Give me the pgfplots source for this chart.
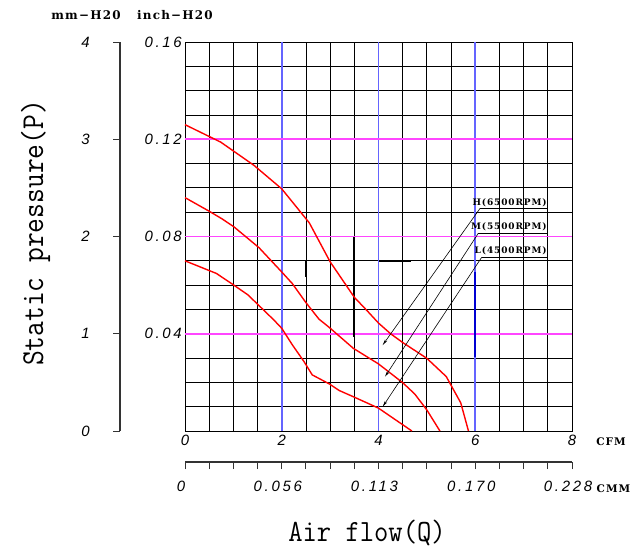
\documentclass[border=0pt]{standalone}
\usepackage{fontspec}
\usepackage{pgfplots}
\pgfplotsset{compat=1.18}
\usetikzlibrary{arrows.meta}
\newfontfamily\tickfont[LetterSpace=18]{Liberation Sans}
\newfontfamily\lblfont[LetterSpace=10]{DejaVu Serif}
\definecolor{gblue}{RGB}{100,100,255}
\definecolor{gmag}{RGB}{255,70,255}
\definecolor{dblue}{RGB}{0,0,210}
\begin{document}
\begin{tikzpicture}[x=1bp,y=1bp]
\path[use as bounding box] (0,0) rectangle (641,-549);
% main axis
\begin{axis}[
  at={(185bp,-431bp)}, anchor=south west,
  scale only axis, width=387bp, height=389bp,
  xmin=0,xmax=8,ymin=0,ymax=4,
  xtick={0,2,4,6,8}, xticklabels={0,2,4,6,8},
  minor xtick={0.5,1,1.5,2.5,3,3.5,4.5,5,5.5,6.5,7,7.5},
  ytick={1,2,3,4}, yticklabels={0.04,0.08,0.12,0.16},
  minor ytick={0.25,0.5,0.75,1.25,1.5,1.75,2.25,2.5,2.75,3.25,3.5,3.75},
  xmajorgrids=false, ymajorgrids=false,
  xminorgrids=true, yminorgrids=true,
  minor grid style={black,line width=0.8bp},
  major tick length=0pt, minor tick length=0pt,
  axis line style={black,line width=1bp},
  ticklabel style={font=\tickfont\itshape\fontsize{15}{15}\selectfont, inner sep=0pt},
  xticklabel style={anchor=north, yshift=-4bp},
  yticklabel style={anchor=east, xshift=-3bp},
  clip=false,
]
% coloured reference lines
\addplot[gblue,line width=1.6bp] coordinates {(2,0) (2,4)};
\addplot[gblue,line width=1.6bp] coordinates {(4,0) (4,4)};
\addplot[gblue,line width=1.6bp] coordinates {(6,0) (6,4)};
\addplot[gmag,line width=1.8bp] coordinates {(0,1) (8,1)};
\addplot[gmag,line width=1.8bp] coordinates {(0,2) (8,2)};
\addplot[gmag,line width=1.8bp] coordinates {(0,3) (8,3)};
% stray dark segments of the original drawing
\addplot[black,line width=2bp] coordinates {(3.5,2.0) (3.5,0.97)};
\addplot[black,line width=2bp] coordinates {(2.5,1.75) (2.5,1.58)};
\addplot[black,line width=2bp] coordinates {(4.0,1.75) (4.67,1.75)};
\addplot[black,line width=1.6bp] coordinates {(4.5,2.0) (4.5,0)};
\addplot[dblue,line width=2.2bp] coordinates {(6,1.64) (6,0.76)};
% curves
\addplot[red,line width=1.4bp] coordinates {
(0,3.15) (0.74,2.97) (1.43,2.73) (2.0,2.49) (2.57,2.14) (3.0,1.74) (3.5,1.375)
(3.74,1.25) (4.0,1.11) (4.25,1.0) (4.5,0.91) (5.0,0.747) (5.4,0.56) (5.7,0.29) (5.86,0)};
\addplot[red,line width=1.4bp] coordinates {
(0,2.40) (0.5,2.26) (0.77,2.18) (1.01,2.10) (1.53,1.885) (2.0,1.635) (2.22,1.515)
(2.5,1.32) (2.77,1.15) (2.98,1.066) (3.48,0.85) (4.0,0.69) (4.5,0.497) (4.75,0.38)
(5.0,0.216) (5.27,0)};
\addplot[red,line width=1.4bp] coordinates {
(0,1.75) (0.65,1.62) (0.98,1.51) (1.3,1.40) (1.55,1.28) (1.84,1.14) (2.0,1.056)
(2.22,0.885) (2.46,0.714) (2.63,0.577) (2.98,0.485) (3.19,0.416) (3.5,0.348)
(4.0,0.235) (4.69,0)};
% leaders
\addplot[black,line width=0.6bp] coordinates {(7.48,2.29) (6.10,2.29)};
\addplot[black,line width=0.6bp,-{Stealth[length=6bp,width=2.6bp]}] coordinates {(6.10,2.29) (4.087,0.884)};
\addplot[black,line width=0.6bp] coordinates {(7.48,2.033) (6.063,2.033)};
\addplot[black,line width=0.6bp,-{Stealth[length=6bp,width=2.6bp]}] coordinates {(6.063,2.033) (4.134,0.558)};
\addplot[black,line width=0.6bp] coordinates {(7.48,1.786) (6.133,1.786)};
\addplot[black,line width=0.6bp,-{Stealth[length=6bp,width=2.6bp]}] coordinates {(6.133,1.786) (4.087,0.25)};
\node[anchor=base east,inner sep=0pt,font=\lblfont\bfseries\fontsize{9}{9}\selectfont] at (axis cs:7.48,2.316) {H(6500RPM)};
\node[anchor=base east,inner sep=0pt,font=\lblfont\bfseries\fontsize{9}{9}\selectfont] at (axis cs:7.48,2.077) {M(5500RPM)};
\node[anchor=base east,inner sep=0pt,font=\lblfont\bfseries\fontsize{9}{9}\selectfont] at (axis cs:7.48,1.827) {L(4500RPM)};
\end{axis}
% mm-H2O axis
\begin{axis}[
  at={(120bp,-431bp)}, anchor=south west,
  scale only axis, width=10bp, height=389bp,
  xmin=0,xmax=1,ymin=0,ymax=4,
  hide x axis, axis y line*=left,
  y axis line style={-,line width=1.2bp,black!80},
  ytick={0,1,2,3,4}, yticklabels={0,1,2,3,4},
  tick align=outside, major tick length=7bp,
  tick style={black!80,line width=1bp},
  yticklabel style={font=\tickfont\itshape\fontsize{15}{15}\selectfont, inner sep=0pt, anchor=east, xshift=-23bp},
]
\addplot[draw=none] coordinates {(0,0) (1,4)};
\end{axis}
% CMM axis
\begin{axis}[
  at={(185bp,-462bp)}, anchor=south west,
  scale only axis, width=387bp, height=10bp,
  xmin=0,xmax=8,ymin=0,ymax=1,
  hide y axis, axis x line*=bottom,
  x axis line style={-,line width=1.2bp,black!80},
  xtick={0,2,4,6,8}, xticklabels={0,0.056,0.113,0.170,0.228},
  minor xtick={0,0.5,...,8},
  tick align=outside, major tick length=7bp, minor tick length=7bp,
  tick style={black!80,line width=1bp},
  xticklabel style={font=\tickfont\itshape\fontsize{15}{15}\selectfont, inner sep=0pt, anchor=north, yshift=-12bp, xshift=-4bp},
]
\addplot[draw=none] coordinates {(0,0) (8,1)};
\end{axis}
% texts
\node[font=\lblfont\bfseries\fontsize{12}{12}\selectfont] at (86,-15.5) {mm−H20};
\node[font=\lblfont\bfseries\fontsize{12}{12}\selectfont] at (175,-15.5) {inch−H20};
\node[font=\lblfont\bfseries\fontsize{10.5}{11}\selectfont] at (611,-441.5) {CFM};
\node[font=\lblfont\bfseries\fontsize{10.5}{11}\selectfont] at (613.5,-488.5) {CMM};
\node[rotate=90,anchor=base,inner sep=0pt] at (43,-233) {\scalebox{0.9}[1]{\ttfamily\fontsize{32}{32}\selectfont Static pressure(P)}};
\node[anchor=base,inner sep=0pt] at (367,-541) {\scalebox{0.9}[1]{\ttfamily\fontsize{31}{31}\selectfont Air flow(Q)}};
\end{tikzpicture}
\end{document}
